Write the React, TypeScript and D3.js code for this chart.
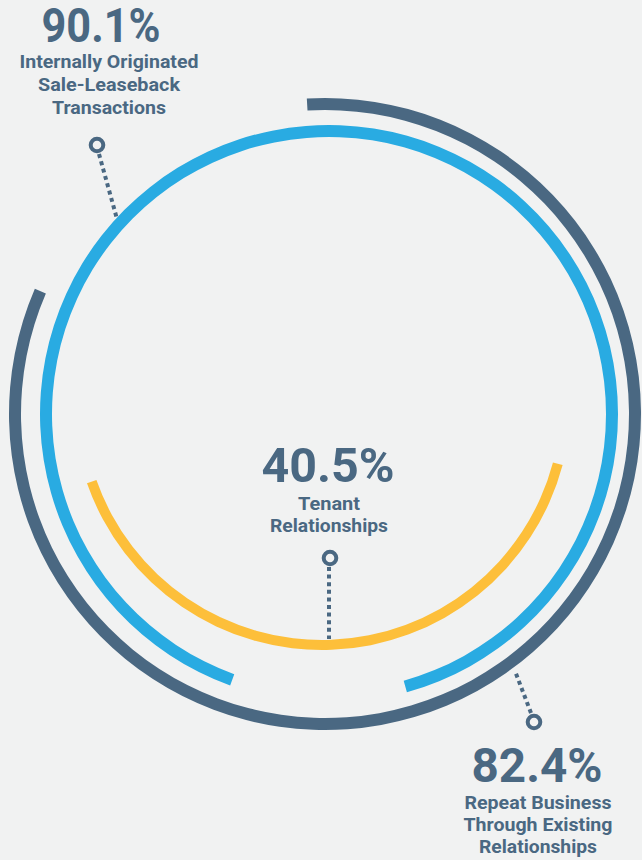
import React from "react";
import * as d3 from "d3";

// ---- data ----
const percentages: number[] = [90.1, 82.4, 40.5];
const valueLabels: string[] = ["90.1%", "82.4%", "40.5%"];
const descriptions: string[][] = [
  ["Internally Originated", "Sale-Leaseback", "Transactions"],
  ["Repeat Business", "Through Existing", "Relationships"],
  ["Tenant", "Relationships"],
];
const seriesColors: string[] = ["#29abe2", "#4a6882", "#fdbf3a"];

// ---- layout (not data) ----
const W = 642;
const H = 860;
const TEXT = "#4a6882";
const BG = "#f1f2f2";

const ringLayout = [
  { cx: 329, cy: 414, r: 283, w: 12, startDeg: 200.0 },
  { cx: 325, cy: 414, r: 310, w: 12, startDeg: -3.3 },
  { cx: 322, cy: 401, r: 244, w: 10, startDeg: 104.9 },
];

const labelLayout = [
  { bigX: 101, bigY: 42, lineX: 109, lineY: [68, 91, 114], widths: [179, 142, 114], bigW: 119 },
  { bigX: 537, bigY: 782, lineX: 538, lineY: [809, 831, 853], widths: [147, 149, 118], bigW: 131 },
  { bigX: 328, bigY: 482, lineX: 329, lineY: [510, 532], widths: [62, 118], bigW: 133 },
];

const leaders = [
  { dot: [97, 145], from: [99, 154], to: [117, 219] },
  { dot: [534, 722], from: [531, 713], to: [515, 671] },
  { dot: [330, 558], from: [329, 567], to: [329, 639] },
];

const angle = d3.scaleLinear().domain([0, 100]).range([0, 2 * Math.PI]);
const deg = (d: number) => (d * Math.PI) / 180;

export default function App() {
  React.useEffect(() => {
    document.body.style.margin = "0";
    document.body.style.background = BG;
    document.body.style.overflow = "hidden";
  }, []);

  return (
    <svg
      width={W}
      height={H}
      viewBox={`0 0 ${W} ${H}`}
      style={{ position: "absolute", left: 0, top: 0, display: "block" }}
      fontFamily="Roboto, 'Open Sans', sans-serif"
    >
      <rect x={0} y={0} width={W} height={H} fill={BG} />
      {percentages.map((p, i) => {
        const L = ringLayout[i];
        const start = deg(L.startDeg);
        const path = d3
          .arc()
          .innerRadius(L.r - L.w / 2)
          .outerRadius(L.r + L.w / 2)
          .startAngle(start)
          .endAngle(start + angle(p))({} as any);
        return (
          <path
            key={"arc" + i}
            d={path || ""}
            transform={`translate(${L.cx},${L.cy})`}
            fill={seriesColors[i]}
          />
        );
      })}
      {leaders.map((l, i) => (
        <g key={"lead" + i}>
          <line
            x1={l.from[0]}
            y1={l.from[1]}
            x2={l.to[0]}
            y2={l.to[1]}
            stroke={TEXT}
            strokeWidth={4}
            strokeDasharray="4 3.6"
          />
          <circle cx={l.dot[0]} cy={l.dot[1]} r={6.3} fill={BG} stroke={TEXT} strokeWidth={4} />
        </g>
      ))}
      {valueLabels.map((v, i) => {
        const T = labelLayout[i];
        return (
          <g key={"lab" + i} fill={TEXT} fontWeight={700} textAnchor="middle">
            <text
              x={T.bigX}
              y={T.bigY}
              fontSize={48}
              textLength={T.bigW}
              lengthAdjust="spacingAndGlyphs"
            >
              {v}
            </text>
            {descriptions[i].map((line, j) => (
              <text
                key={j}
                x={T.lineX}
                y={T.lineY[j]}
                fontSize={19}
                textLength={T.widths[j]}
                lengthAdjust="spacingAndGlyphs"
              >
                {line}
              </text>
            ))}
          </g>
        );
      })}
    </svg>
  );
}
